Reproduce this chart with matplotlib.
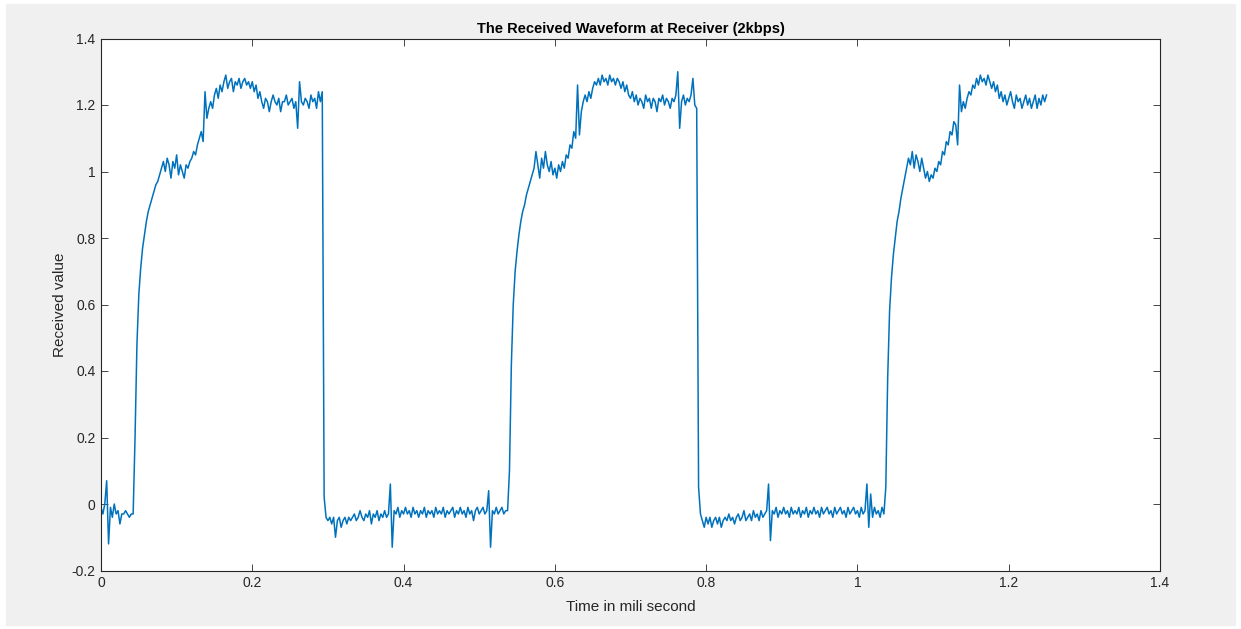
import numpy as np
import matplotlib
matplotlib.use("Agg")
import matplotlib.pyplot as plt
from matplotlib.patches import Rectangle
from matplotlib.ticker import FuncFormatter

# sample spacing of the received waveform (ms)
dt = 0.0025

# received values in hundredths, one list per half bit
low0 = [-1, -3, 0, 7, -12, -1, -4, 0, -3, -2, -6, -3, -3, -2, -3, -4, -3, -3]

high1 = [20, 48, 63, 71, 77, 81, 85, 88, 90, 92,
         94, 96, 97, 99, 101, 103, 100, 104, 102, 98,
         103, 101, 105, 99, 102, 100, 98, 102, 101, 103,
         104, 106, 105, 108, 110, 112, 109, 124, 116, 119,
         121, 119, 123, 125, 122, 126, 124, 127, 129, 125,
         127, 128, 124, 127, 126, 128, 125, 127, 128, 126,
         127, 125, 127, 124, 126, 122, 124, 121, 119, 122,
         121, 118, 121, 123, 121, 120, 122, 118, 121, 121,
         123, 120, 121, 122, 119, 121, 113, 127, 121, 120,
         122, 121, 119, 123, 121, 122, 119, 124, 121, 124]

low1 = [2, -4, -5, -4, -6, -4, -10, -5, -4, -7,
        -5, -4, -6, -4, -5, -4, -3, -5, -4, -2,
        -4, -5, -3, -4, -2, -6, -3, -4, -2, -5,
        -3, -4, -2, -4, -3, 6, -13, -2, -3, -1,
        -4, -2, -3, -1, -3, -2, -4, -1, -3, -2,
        -4, -2, -3, -1, -4, -2, -3, -2, -4, -1,
        -3, -2, -3, -1, -4, -2, -3, -2, -1, -4,
        -2, -3, -1, -3, -2, -4, -1, -3, -2, -5,
        -2, -1, -3, -2, -1, -3, -2, 4, -13, -2,
        -3, -1, -3, -2, -1, -3, -2, -2]

high2 = [10, 42, 60, 70, 76, 81, 85, 88, 90, 93,
         95, 97, 99, 101, 106, 102, 98, 104, 101, 106,
         102, 100, 103, 99, 101, 98, 102, 100, 103, 101,
         105, 104, 108, 107, 112, 110, 126, 111, 118, 121,
         123, 121, 124, 122, 125, 127, 126, 128, 126, 129,
         127, 128, 126, 129, 127, 128, 126, 128, 127, 125,
         127, 124, 126, 123, 122, 124, 121, 123, 120, 122,
         121, 119, 123, 121, 122, 119, 122, 121, 118, 122,
         121, 123, 120, 122, 121, 119, 122, 121, 123, 130,
         113, 121, 123, 120, 122, 121, 123, 128, 120, 119]

low2 = [5, -3, -5, -7, -4, -6, -4, -7, -5, -4,
        -6, -4, -7, -5, -4, -5, -3, -5, -4, -6,
        -4, -3, -5, -4, -2, -5, -4, -3, -5, -2,
        -4, -3, -5, -2, -4, -3, -2, 6, -11, -2,
        -3, -1, -4, -2, -3, -1, -3, -2, -4, -1,
        -3, -2, -3, -1, -4, -2, -3, -1, -4, -2,
        -3, -1, -3, -2, -4, -1, -3, -2, -1, -3,
        -2, -4, -1, -3, -2, -1, -3, -2, -4, -1,
        -3, -2, -1, -3, -2, -4, -1, -3, -2, 6,
        -7, 3, -4, -1, -3, -2, -4, -1, -3]

high3 = [5, 38, 58, 68, 75, 80, 85, 88, 92, 95,
         98, 101, 104, 102, 106, 101, 105, 103, 100, 104,
         101, 98, 100, 97, 99, 98, 101, 100, 103, 102,
         106, 105, 109, 108, 112, 111, 115, 114, 108, 126,
         118, 121, 119, 122, 124, 123, 126, 125, 128, 126,
         129, 127, 128, 126, 129, 127, 125, 127, 124, 126,
         122, 124, 121, 123, 120, 122, 124, 121, 119, 123,
         121, 122, 119, 121, 123, 120, 122, 119, 121, 123,
         119, 122, 120, 123, 121, 123]

xticks = [0, 0.2, 0.4, 0.6, 0.8, 1, 1.2, 1.4]
yticks = [-0.2, 0, 0.2, 0.4, 0.6, 0.8, 1, 1.2, 1.4]

#---------------- putting the waveform together
y = np.array(low0 + high1 + low1 + high2 + low2 + high3) / 100.0
t = np.arange(len(y)) * dt

plt.rcParams['font.family'] = ['Liberation Sans', 'DejaVu Sans']

fig = plt.figure(figsize=(12.41, 6.29), dpi=100, facecolor='white')
# grey matlab window area
fig.patches.append(Rectangle((6/1241, 4/629), 1229/1241, 621/629,
                             transform=fig.transFigure, color='#f0f0f0', zorder=-10))

ax = fig.add_axes([101/1241, 58.5/629, 1059/1241, 532/629])
ax.plot(t, y, color='#0072BD', lw=1.1)

ax.set_xlim(0, 1.4)
ax.set_ylim(-0.2, 1.4)
ax.set_xticks(xticks)
ax.set_yticks(yticks)
fmt = FuncFormatter(lambda v, p: '%g' % v)
ax.xaxis.set_major_formatter(fmt)
ax.yaxis.set_major_formatter(fmt)
ax.tick_params(direction='in', length=5, width=0.6, top=True, right=True,
               labelsize=10, colors='#262626', pad=4)
for s in ax.spines.values():
    s.set_color('#262626')
    s.set_linewidth(0.8)

ax.set_title('The Received Waveform at Receiver (2kbps)', fontsize=10.5,
             fontweight='bold', color='black', pad=4)
ax.set_xlabel('Time in mili second', fontsize=11, color='#262626', labelpad=7)
ax.set_ylabel('Received value', fontsize=11, color='#262626', labelpad=3)

fig.savefig('out.png', dpi=100, facecolor=fig.get_facecolor())
